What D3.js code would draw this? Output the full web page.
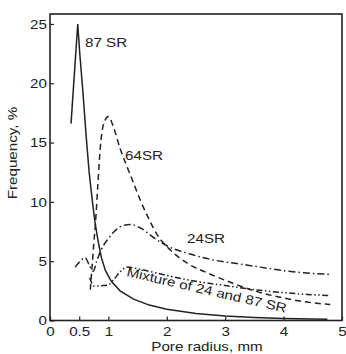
<!DOCTYPE html>
<html>
<head>
<meta charset="utf-8">
<script src="https://cdn.jsdelivr.net/npm/d3@7"></script>
<style>
  body { margin: 0; background: #fff; }
  svg text {
    font-family: "Liberation Sans", Arial, sans-serif;
    font-size: 13px;
    fill: #222;
    transform-box: fill-box;
    transform-origin: center;
    transform: scaleX(1.17);
  }
  svg .y-axis text { transform-origin: right center; }
  svg text.left { transform-origin: left center; }
</style>
</head>
<body>
<div id="chart"></div>
<script>
// ------- Data -------

const xTicks = [0, 0.5, 1, 2, 3, 4, 5];
const yTicks = [0, 5, 10, 15, 20, 25];

// 87 SR (solid)
const sr87X = [0.36, 0.475, 0.51, 0.56, 0.62, 0.67, 0.72, 0.77, 0.82, 0.88, 0.95, 1.05, 1.2, 1.43, 1.7, 2.0, 2.5, 3.0, 3.5, 4.0, 4.75];
const sr87Y = [16.6, 25, 22.5, 19.5, 15.5, 12.5, 10.3, 8.3, 6.8, 5.3, 4.2, 3.3, 2.5, 1.8, 1.3, 0.95, 0.6, 0.38, 0.25, 0.16, 0.1];

// 64SR (dashed)
const sr64X = [0.69, 0.72, 0.75, 0.78, 0.82, 0.86, 0.92, 1.0, 1.08, 1.2, 1.3, 1.43, 1.55, 1.67, 1.84, 2.07, 2.36, 2.7, 3.1, 3.5, 4.0, 4.4, 4.8];
const sr64Y = [2.6, 4.5, 6.5, 8.3, 11.5, 14.5, 16.6, 17.2, 16.4, 14.5, 13.2, 11.6, 10.1, 8.8, 7.2, 5.9, 4.8, 4.0, 3.2, 2.5, 1.9, 1.55, 1.35];

// 24SR (dash-dot)
const sr24X = [0.43, 0.5, 0.6, 0.67, 0.74, 0.8, 0.88, 1.0, 1.1, 1.25, 1.38, 1.55, 1.8, 2.0, 2.4, 2.8, 3.2, 3.6, 4.0, 4.4, 4.8];
const sr24Y = [4.5, 4.9, 5.3, 4.7, 4.15, 5.0, 6.0, 6.9, 7.5, 8.0, 8.1, 7.8, 6.9, 6.3, 5.6, 5.1, 4.8, 4.5, 4.2, 4.0, 3.9];

// Mixture of 24 and 87 SR (dash-dot-dot)
const mixX = [0.68, 0.76, 0.9, 1.0, 1.1, 1.2, 1.32, 1.6, 2.0, 2.5, 3.0, 3.5, 4.0, 4.4, 4.8];
const mixY = [3.6, 2.9, 2.95, 3.0, 3.5, 4.1, 4.5, 4.25, 3.8, 3.3, 2.95, 2.6, 2.35, 2.2, 2.1];

const series = [
  { name: "87 SR", xs: sr87X, ys: sr87Y, dash: null, curve: d3.curveLinear },
  { name: "64SR", xs: sr64X, ys: sr64Y, dash: "6,4", curve: d3.curveMonotoneX },
  { name: "24SR", xs: sr24X, ys: sr24Y, dash: "7,3,1.5,3", curve: d3.curveMonotoneX },
  { name: "Mixture of 24 and 87 SR", xs: mixX, ys: mixY, dash: "6,2.5,1.5,2.5,1.5,2.5", curve: d3.curveMonotoneX },
];

// ------- SVG setup -------

const width = 346;
const height = 354;
const ink = "#222";

const svg = d3
  .select("#chart")
  .append("svg")
  .attr("width", width)
  .attr("height", height);

const x = d3.scaleLinear().domain([0, 5]).range([50, 342]);
const y = d3.scaleLinear().domain([0, 25.84]).range([320.5, 14]);

// Axes (ticks pointing inward)
const xAxisG = svg
  .append("g")
  .attr("class", "x-axis")
  .attr("transform", `translate(0,${y(0)})`)
  .call(
    d3.axisBottom(x)
      .tickValues(xTicks)
      .tickSize(-4)
      .tickPadding(6)
      .tickFormat(d3.format("~g"))
  );

const yAxisG = svg
  .append("g")
  .attr("class", "y-axis")
  .attr("transform", `translate(${x(0)},0)`)
  .call(
    d3.axisLeft(y)
      .tickValues(yTicks)
      .tickSize(-4)
      .tickPadding(3)
  );

[xAxisG, yAxisG].forEach((g) => {
  g.select(".domain").remove();
  g.selectAll(".tick line").attr("stroke", ink).attr("stroke-width", 1.2);
  g.selectAll(".tick text").attr("fill", ink).style("font-size", "13px");
});

// Frame
svg
  .append("rect")
  .attr("x", x(0))
  .attr("y", y(25.84))
  .attr("width", x(5) - x(0))
  .attr("height", y(0) - y(25.84))
  .attr("fill", "none")
  .attr("stroke", ink)
  .attr("stroke-width", 1.6);

// ------- Curves -------

series.forEach((s) => {
  const pts = s.xs.map((v, i) => [v, s.ys[i]]);
  const line = d3
    .line()
    .x((d) => x(d[0]))
    .y((d) => y(d[1]))
    .curve(s.curve);
  svg
    .append("path")
    .datum(pts)
    .attr("d", line)
    .attr("fill", "none")
    .attr("stroke", ink)
    .attr("stroke-width", 1.5)
    .attr("stroke-dasharray", s.dash);
});

// ------- Labels -------

svg.append("text").attr("class", "left").attr("x", 85).attr("y", 47).text("87 SR");
svg.append("text").attr("class", "left").attr("x", 125).attr("y", 160).text("64SR");
svg.append("text").attr("class", "left").attr("x", 187).attr("y", 243).text("24SR");

svg
  .append("g")
  .attr("transform", "translate(126,276) rotate(13)")
  .append("text")
  .attr("class", "left")
  .text("Mixture of 24 and 87 SR");

svg
  .append("text")
  .attr("x", 207)
  .attr("y", 351)
  .attr("text-anchor", "middle")
  .text("Pore radius, mm");

svg
  .append("g")
  .attr("transform", "translate(17,153) rotate(-90)")
  .append("text")
  .attr("text-anchor", "middle")
  .text("Frequency, %");
</script>
</body>
</html>
